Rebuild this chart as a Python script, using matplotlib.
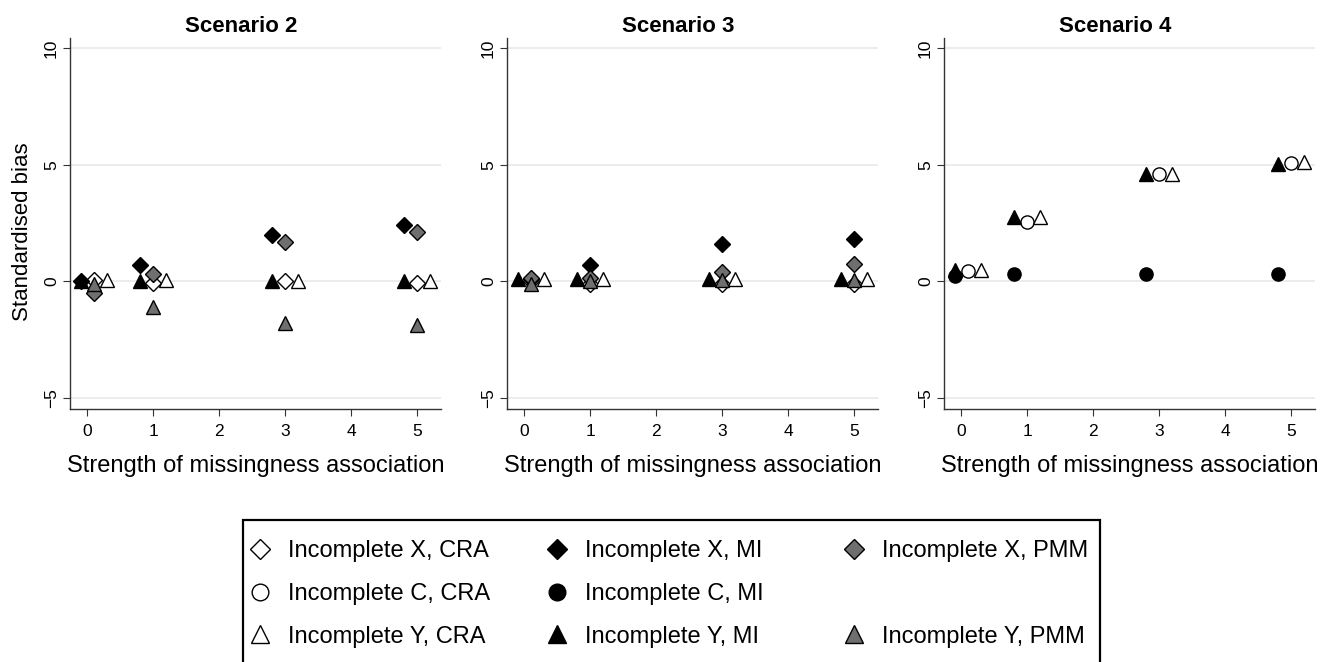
import matplotlib
matplotlib.use("Agg")
import matplotlib.pyplot as plt
from matplotlib.lines import Line2D
from matplotlib.patches import Rectangle

plt.rcParams['font.family'] = ['Liberation Sans', 'DejaVu Sans']

# ===============================
# Data
# ===============================
strength_ticks = [0, 1, 2, 3, 4, 5]
# plotted x positions (points are dodged around 0, 1, 3, 5)
x_left = [-0.1, 0.8, 2.8, 4.8]
x_mid = [0.1, 1.0, 3.0, 5.0]
x_right = [0.3, 1.2, 3.2, 5.2]

titles = ["Scenario 2", "Scenario 3", "Scenario 4"]

# Scenario 2
s2_x_cra = [0.05, -0.05, 0.0, -0.05]
s2_x_mi = [0.0, 0.7, 2.0, 2.4]
s2_x_pmm = [-0.5, 0.3, 1.7, 2.1]
s2_y_cra = [0.05, 0.05, 0.0, 0.0]
s2_y_mi = [0.0, 0.0, 0.0, 0.0]
s2_y_pmm = [-0.1, -1.1, -1.8, -1.85]

# Scenario 3
s3_x_cra = [0.0, -0.1, -0.1, -0.1]
s3_x_mi = [0.1, 0.7, 1.6, 1.8]
s3_x_pmm = [0.15, 0.15, 0.4, 0.75]
s3_y_cra = [0.1, 0.1, 0.1, 0.1]
s3_y_mi = [0.1, 0.1, 0.1, 0.1]
s3_y_pmm = [-0.1, 0.0, 0.05, 0.05]

# Scenario 4
s4_c_cra = [0.45, 2.55, 4.6, 5.07]
s4_c_mi = [0.25, 0.3, 0.3, 0.33]
s4_y_cra = [0.5, 2.75, 4.6, 5.1]
s4_y_mi = [0.5, 2.75, 4.6, 5.05]

legend_cols = [
    [("X_CRA", "Incomplete X, CRA"), ("C_CRA", "Incomplete C, CRA"), ("Y_CRA", "Incomplete Y, CRA")],
    [("X_MI", "Incomplete X, MI"), ("C_MI", "Incomplete C, MI"), ("Y_MI", "Incomplete Y, MI")],
    [("X_PMM", "Incomplete X, PMM"), (None, ""), ("Y_PMM", "Incomplete Y, PMM")],
]

# ===============================
# Marker styles
# ===============================
grey = '#6f6f6f'
sty = {
    "X_CRA": dict(marker='D', mfc='white', ms=8.0, lms=10.5),
    "C_CRA": dict(marker='o', mfc='white', ms=9.5, lms=12),
    "Y_CRA": dict(marker='^', mfc='white', ms=10, lms=13),
    "X_MI": dict(marker='D', mfc='black', ms=8.0, lms=10.5),
    "C_MI": dict(marker='o', mfc='black', ms=9.5, lms=12),
    "Y_MI": dict(marker='^', mfc='black', ms=10, lms=13),
    "X_PMM": dict(marker='D', mfc=grey, ms=8.0, lms=10.5),
    "Y_PMM": dict(marker='^', mfc=grey, ms=10, lms=13),
}

panels = [
    [("X_CRA", x_mid, s2_x_cra), ("Y_CRA", x_right, s2_y_cra),
     ("X_MI", x_left, s2_x_mi), ("Y_MI", x_left, s2_y_mi),
     ("X_PMM", x_mid, s2_x_pmm), ("Y_PMM", x_mid, s2_y_pmm)],
    [("X_CRA", x_mid, s3_x_cra), ("Y_CRA", x_right, s3_y_cra),
     ("X_MI", x_mid, s3_x_mi), ("Y_MI", x_left, s3_y_mi),
     ("X_PMM", x_mid, s3_x_pmm), ("Y_PMM", x_mid, s3_y_pmm)],
    [("C_CRA", x_mid, s4_c_cra), ("Y_CRA", x_right, s4_y_cra),
     ("C_MI", x_left, s4_c_mi), ("Y_MI", x_left, s4_y_mi)],
]

# ===============================
# Figure
# ===============================
W, H = 1337, 662
fig = plt.figure(figsize=(W / 100, H / 100), dpi=100)
lefts = [70, 507, 944]

for i, left in enumerate(lefts):
    ax = fig.add_axes([left / W, 1 - 409 / H, 371 / W, 371 / H])
    for key, xs, ys in panels[i]:
        s = sty[key]
        ax.plot(xs, ys, linestyle='none', marker=s['marker'], ms=s['ms'],
                mfc=s['mfc'], mec='black', mew=1.0, zorder=3)
    ax.set_xlim(-0.26, 5.36)
    ax.set_ylim(-5.47, 10.43)
    ax.set_xticks(strength_ticks)
    ax.set_yticks([-5, 0, 5, 10])
    ax.grid(axis='y', color='#e9e9e9', linewidth=1.2, zorder=0)
    ax.set_axisbelow(True)
    for sp in ['top', 'right']:
        ax.spines[sp].set_visible(False)
    for sp in ['left', 'bottom']:
        ax.spines[sp].set_color('#333333')
        ax.spines[sp].set_linewidth(1.0)
    ax.tick_params(axis='both', length=5, color='#333333', labelsize=12.5)
    ax.tick_params(axis='x', pad=6)
    ax.tick_params(axis='y', pad=3)
    for t in ax.get_yticklabels():
        t.set_rotation(90)
        t.set_va('center')
    ax.set_title(titles[i], fontsize=16, fontweight='bold', x=0.462, pad=4)
    ax.set_xlabel("Strength of missingness association", fontsize=17, labelpad=11)
    if i == 0:
        ax.set_ylabel("Standardised bias", fontsize=16)
        ax.yaxis.set_label_coords(-0.10, 0.477)

# ===============================
# Legend: three equal-width columns inside one box
# ===============================
col_x = [248, 545, 842]
for cx, col in zip(col_x, legend_cols):
    handles, labs = [], []
    for k, lab in col:
        if k is None:
            handles.append(Line2D([], [], linestyle='none', marker=None))
        else:
            s = sty[k]
            handles.append(Line2D([], [], linestyle='none', marker=s['marker'],
                                  ms=s['lms'], mfc=s['mfc'], mec='black', mew=1.0))
        labs.append(lab)
    fig.legend(handles, labs, loc='upper left', bbox_to_anchor=(cx / W, 1 - 540 / H),
               fontsize=17, frameon=False, handlelength=1.0, handletextpad=0.69,
               labelspacing=0.88, borderpad=0.0, borderaxespad=0.0)

fig.patches.append(Rectangle((243 / W, -0.05), (1100 - 243) / W, 1 - 520 / H + 0.05,
                             transform=fig.transFigure, fill=False,
                             edgecolor='black', linewidth=1.6))

fig.savefig("out.png", dpi=100)
